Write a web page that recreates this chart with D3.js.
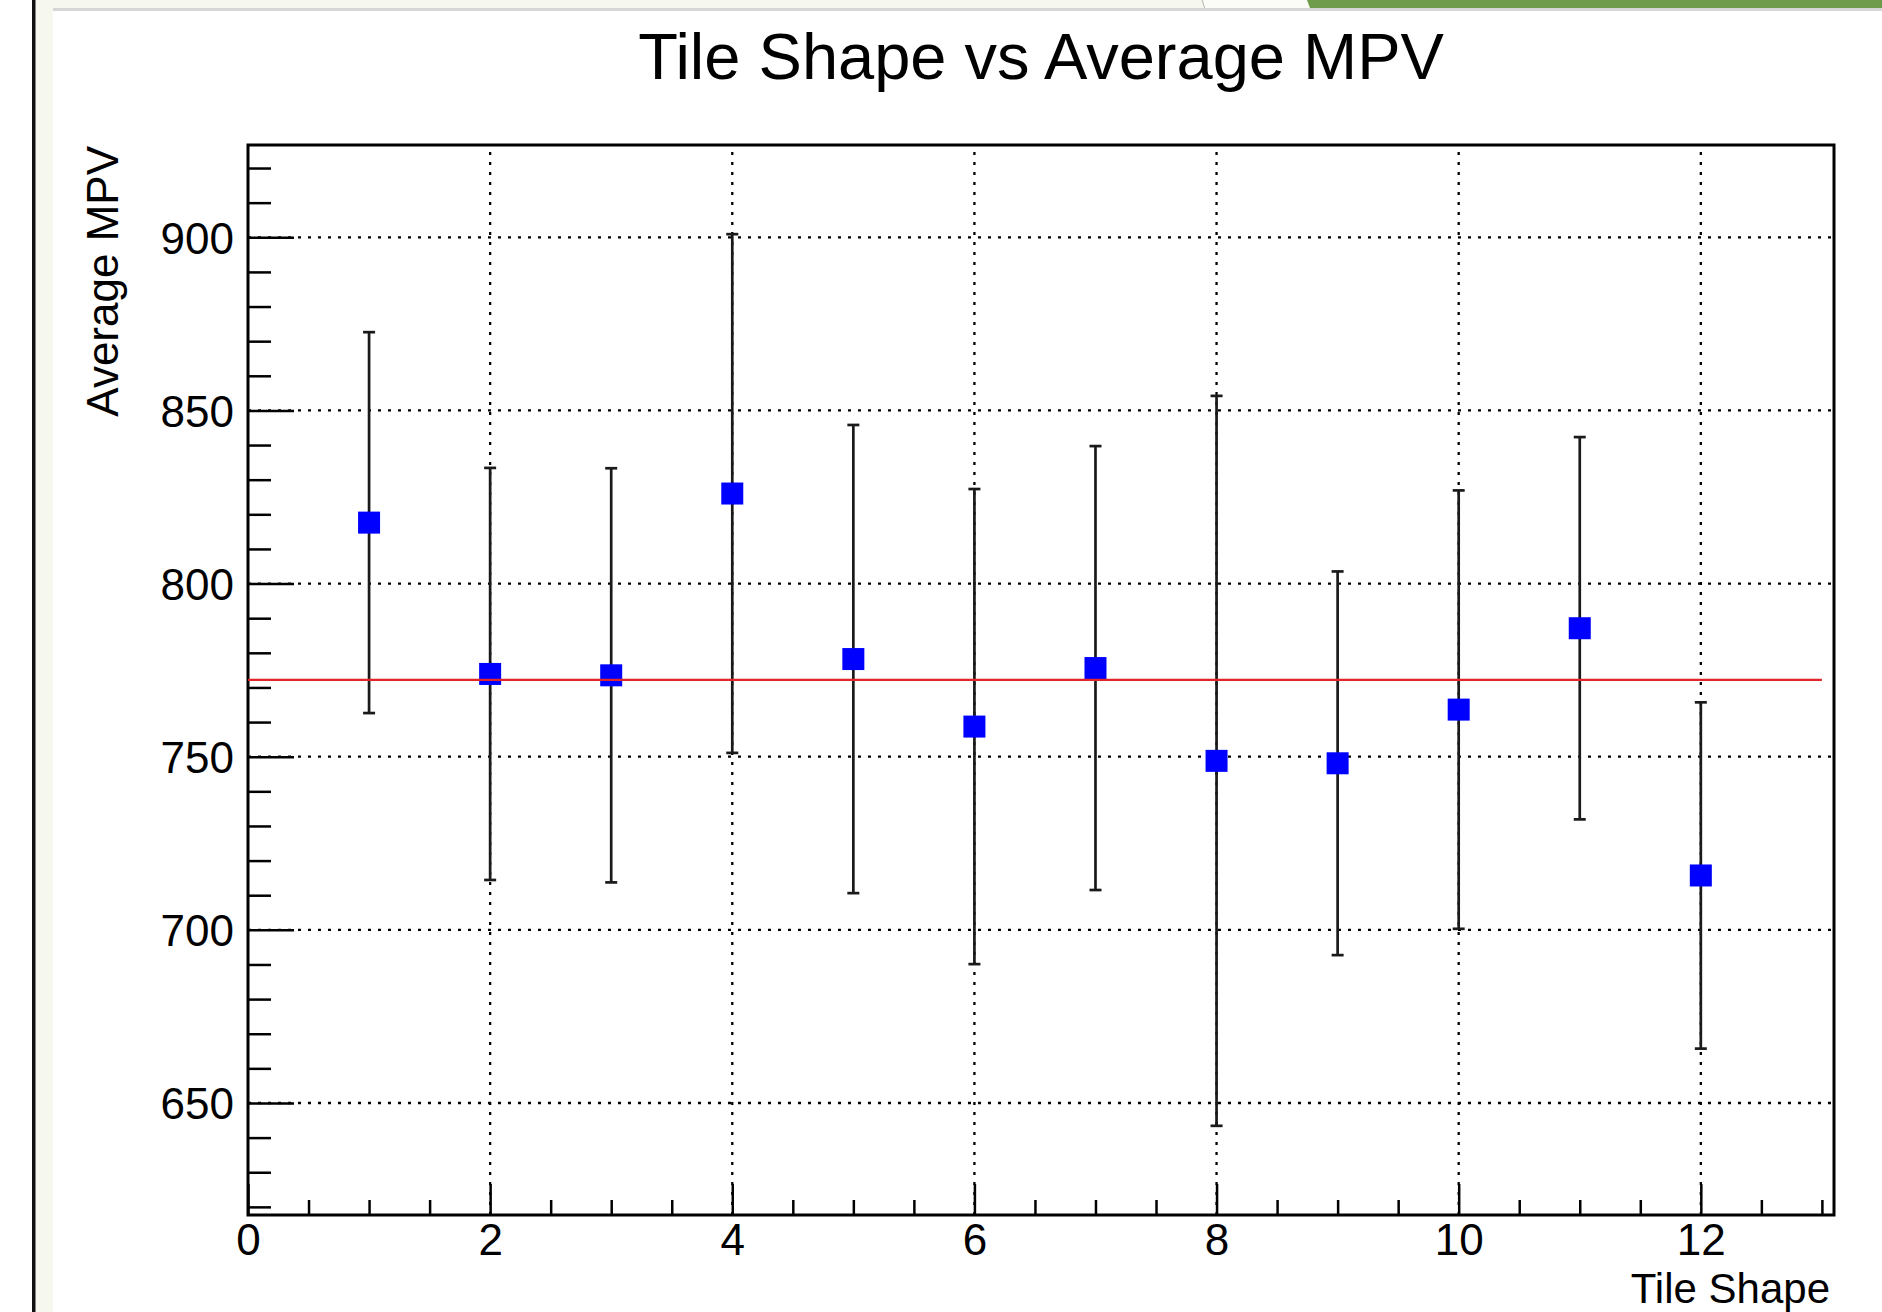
<!DOCTYPE html>
<html lang="en">
<head>
    <meta charset="UTF-8">
    <title>Tile Shape vs Average MPV</title>

    <script src="https://d3js.org/d3.v7.min.js"></script>

    <style>
        body {
            margin: 0;
            background: #ffffff;
        }

        svg text {
            font-family: "Liberation Sans", Arial, sans-serif;
            fill: #000;
        }
    </style>
</head>
<body>

    <svg id="chart"></svg>

    <script>

        // data
        const tileShape = [1, 2, 3, 4, 5, 6, 7, 8, 9, 10, 11, 12];
        const avgMPV = [817.6, 773.9, 773.5, 826.0, 778.2, 758.7, 775.6, 748.8, 748.1, 763.6, 787.1, 715.7];
        const mpvError = [55.0, 59.5, 59.8, 74.9, 67.6, 68.6, 64.1, 105.4, 55.4, 63.3, 55.2, 50.0];

        // constant (pol0) fit drawn in red
        const fitValue = 772.2;
        const fitRange = [0, 13];

        const xTicks = [0, 2, 4, 6, 8, 10, 12];
        const yTicks = [650, 700, 750, 800, 850, 900];

        const title = "Tile Shape vs Average MPV";
        const xTitle = "Tile Shape";
        const yTitle = "Average MPV";

        const data = tileShape.map((t, i) => ({shape: t, mpv: avgMPV[i], err: mpvError[i]}));

        const W = 1882, H = 1312;
        const frame = {left: 248, right: 1834, top: 145, bottom: 1215};

        const svg = d3.select("#chart").attr("width", W).attr("height", H);

        // page decoration around the plot (slide background)
        svg.append("rect").attr("x", 0).attr("y", 0).attr("width", W).attr("height", H).attr("fill", "#ffffff");
        svg.append("rect").attr("x", 35).attr("y", 0).attr("width", W - 35).attr("height", 9).attr("fill", "#f6f7ee");
        svg.append("rect").attr("x", 35).attr("y", 0).attr("width", 18).attr("height", H).attr("fill", "#f6f7ee");
        svg.append("rect").attr("x", 1204).attr("y", 0).attr("width", 106).attr("height", 9).attr("fill", "#fbfbf8");
        svg.append("line").attr("x1", 1202).attr("x2", 1205).attr("y1", 0).attr("y2", 9)
            .attr("stroke", "#b8b8b0").attr("stroke-width", 1);
        svg.append("path").attr("d", "M1307,0 L1882,0 L1882,8 L1310,8 Z").attr("fill", "#6f9c4a");
        svg.append("rect").attr("x", 53).attr("y", 8).attr("width", W - 53).attr("height", 3).attr("fill", "#d6d6d6");
        svg.append("rect").attr("x", 32).attr("y", 0).attr("width", 3.5).attr("height", H).attr("fill", "#111");

        // ROOT style range: data extent plus 10% margin, x clamped at 0
        const yLo = d3.min(data, d => d.mpv - d.err);
        const yHi = d3.max(data, d => d.mpv + d.err);
        const yPad = (yHi - yLo) * 0.1;
        const xPad = (d3.max(tileShape) - d3.min(tileShape)) * 0.1;

        const x = d3.scaleLinear()
            .domain([Math.max(0, d3.min(tileShape) - xPad), d3.max(tileShape) + xPad])
            .range([frame.left, frame.right]);

        const y = d3.scaleLinear()
            .domain([yLo - yPad, yHi + yPad])
            .range([frame.bottom, frame.top]);

        // dotted grid
        const grid = svg.append("g")
            .attr("stroke", "#000")
            .attr("stroke-width", 2.3)
            .attr("stroke-dasharray", "3,7");

        grid.selectAll("line.vx")
            .data(xTicks.filter(d => d > 0))
            .enter()
            .append("line")
            .attr("x1", d => x(d)).attr("x2", d => x(d))
            .attr("y1", frame.bottom).attr("y2", frame.top);

        grid.selectAll("line.hy")
            .data(yTicks)
            .enter()
            .append("line")
            .attr("x1", frame.left).attr("x2", frame.right)
            .attr("y1", d => y(d)).attr("y2", d => y(d));

        // axes, ticks pointing inside the frame
        const yMinor = d3.range(620, 930, 10).filter(v => v % 50 !== 0);
        const xMinor = d3.range(0.5, 13.1, 0.5).filter(v => v % 2 !== 0);

        const yAxis = svg.append("g").attr("transform", `translate(${frame.left},0)`);
        yAxis.call(d3.axisLeft(y).tickValues(yTicks).tickSize(-46).tickSizeOuter(0).tickPadding(14));
        yAxis.append("g").call(d3.axisLeft(y).tickValues(yMinor).tickSize(-23).tickSizeOuter(0).tickFormat(""));

        const xAxis = svg.append("g").attr("transform", `translate(0,${frame.bottom})`);
        xAxis.call(d3.axisBottom(x).tickValues(xTicks).tickSize(-31).tickSizeOuter(0).tickPadding(9));
        xAxis.append("g").call(d3.axisBottom(x).tickValues(xMinor).tickSize(-15).tickSizeOuter(0).tickFormat(""));

        svg.selectAll(".domain").remove();
        svg.selectAll(".tick line").attr("stroke", "#000").attr("stroke-width", 2.5);
        svg.selectAll(".tick text")
            .attr("font-size", 44)
            .attr("font-family", "Liberation Sans, Arial, sans-serif")
            .attr("fill", "#000");
        yAxis.selectAll(".tick text").attr("dy", "0.36em");

        // frame
        svg.append("rect")
            .attr("x", frame.left).attr("y", frame.top)
            .attr("width", frame.right - frame.left).attr("height", frame.bottom - frame.top)
            .attr("fill", "none").attr("stroke", "#000").attr("stroke-width", 3);

        // error bars
        const bars = svg.append("g").attr("stroke", "#1a1a1a").attr("stroke-width", 2.7);

        bars.selectAll("line.bar")
            .data(data)
            .enter()
            .append("line")
            .attr("x1", d => x(d.shape)).attr("x2", d => x(d.shape))
            .attr("y1", d => y(d.mpv + d.err)).attr("y2", d => y(d.mpv - d.err));

        bars.selectAll("line.capTop")
            .data(data)
            .enter()
            .append("line")
            .attr("x1", d => x(d.shape) - 6).attr("x2", d => x(d.shape) + 6)
            .attr("y1", d => y(d.mpv + d.err)).attr("y2", d => y(d.mpv + d.err));

        bars.selectAll("line.capBottom")
            .data(data)
            .enter()
            .append("line")
            .attr("x1", d => x(d.shape) - 6).attr("x2", d => x(d.shape) + 6)
            .attr("y1", d => y(d.mpv - d.err)).attr("y2", d => y(d.mpv - d.err));

        // square markers
        svg.selectAll("rect.marker")
            .data(data)
            .enter()
            .append("rect")
            .attr("x", d => x(d.shape) - 11)
            .attr("y", d => y(d.mpv) - 11)
            .attr("width", 22)
            .attr("height", 22)
            .attr("fill", "#0000ff");

        // fit line
        svg.append("line")
            .attr("x1", x(fitRange[0])).attr("x2", x(fitRange[1]))
            .attr("y1", y(fitValue)).attr("y2", y(fitValue))
            .attr("stroke", "#e0262a")
            .attr("stroke-width", 2.2);

        // titles
        svg.append("text")
            .attr("x", (frame.left + frame.right) / 2)
            .attr("y", 78.5)
            .attr("text-anchor", "middle")
            .attr("font-size", 65)
            .text(title);

        svg.append("text")
            .attr("x", 1830)
            .attr("y", 1303)
            .attr("text-anchor", "end")
            .attr("font-size", 42)
            .text(xTitle);

        svg.append("text")
            .attr("transform", "translate(118,146) rotate(-90)")
            .attr("text-anchor", "end")
            .attr("font-size", 44)
            .text(yTitle);

    </script>

</body>
</html>
